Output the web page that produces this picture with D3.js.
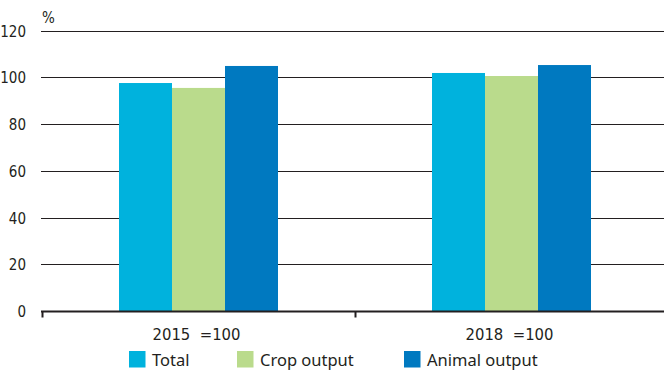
<!DOCTYPE html>
<html>
<head>
<meta charset="utf-8">
<script src="https://cdn.jsdelivr.net/npm/d3@7"></script>
<style>
  html, body { margin: 0; padding: 0; background: #fff; }
  svg { display: block; }
</style>
</head>
<body>
<svg id="chart" width="664" height="371"></svg>
<script>
const categories = ["2015 \u00A0=100", "2018 \u00A0=100"];
const seriesNames = ["Total", "Crop output", "Animal output"];
const total = [97.6, 101.9];
const crop = [95.5, 100.6];
const animal = [104.9, 105.3];
const yTicks = [0, 20, 40, 60, 80, 100, 120];
const colors = ["#00b2dd", "#badb8c", "#0079c0"];

const series = [total, crop, animal];
const svg = d3.select("#chart");
const ink = "#231f20";
const narrow = "'Liberation Sans Narrow', 'DejaVu Sans Condensed', sans-serif";

const x0 = d3.scaleBand().domain(categories).range([42, 668]).paddingInner(0).paddingOuter(0);
const x1 = d3.scaleBand().domain(seriesNames).range([0, 159]).padding(0);
const y = d3.scaleLinear().domain([0, 120]).range([311, 30.7]);

// gridlines
svg.append("g").selectAll("line").data(yTicks.filter(d => d > 0)).join("line")
  .attr("x1", 41).attr("x2", 664)
  .attr("y1", d => Math.round(y(d)) + 0.5).attr("y2", d => Math.round(y(d)) + 0.5)
  .attr("stroke", ink).attr("stroke-width", 1);

// y tick labels
svg.append("g").selectAll("text").data(yTicks).join("text")
  .attr("x", 26).attr("y", d => y(d) + 6)
  .attr("text-anchor", "end")
  .attr("font-family", narrow).attr("font-size", 15).attr("fill", ink)
  .text(d => d);

svg.append("text").attr("x", 42).attr("y", 22.5)
  .attr("font-family", narrow).attr("font-size", 15).attr("fill", ink).text("%");

// bars
const groups = svg.append("g").selectAll("g").data(categories).join("g")
  .attr("transform", c => `translate(${x0(c) + (x0.bandwidth() - 159) / 2},0)`);
groups.selectAll("rect").data((c, i) => seriesNames.map((s, j) => ({ s, v: series[j][i], j })))
  .join("rect")
  .attr("x", d => x1(d.s)).attr("width", x1.bandwidth())
  .attr("y", d => y(d.v)).attr("height", d => y(0) - y(d.v))
  .attr("fill", d => colors[d.j]);

// x axis
const xAxis = svg.append("g").attr("transform", "translate(0,311)")
  .call(d3.axisBottom(x0).tickSize(0).tickPadding(0));
xAxis.select(".domain").remove();
xAxis.selectAll("text").remove();
xAxis.append("line").attr("x1", 41).attr("x2", 664).attr("y1", 0.5).attr("y2", 0.5)
  .attr("stroke", ink).attr("stroke-width", 2);
const boundaries = [x0.range()[0], x0(categories[1])];
xAxis.selectAll("line.tk").data(boundaries).join("line").attr("class", "tk")
  .attr("x1", d => d + 0.5).attr("x2", d => d + 0.5).attr("y1", 0).attr("y2", 6.5)
  .attr("stroke", ink).attr("stroke-width", 2);
xAxis.selectAll("text.cat").data(categories).join("text").attr("class", "cat")
  .attr("x", d => x0(d) + x0.bandwidth() / 2 - 2).attr("y", 28.5)
  .attr("text-anchor", "middle")
  .attr("font-family", narrow).attr("font-size", 16.5).attr("fill", ink)
  .text(d => d);

// legend
const legendX = [129, 237, 404];
const lg = svg.append("g").selectAll("g").data(seriesNames).join("g")
  .attr("transform", (d, i) => `translate(${legendX[i]},351)`);
lg.append("rect").attr("width", 16.5).attr("height", 16.5).attr("fill", (d, i) => colors[i]);
lg.append("text").attr("x", 23).attr("y", 15.3)
  .attr("font-family", "'Noto Sans', 'Open Sans', sans-serif").attr("font-size", 16.5).attr("fill", ink)
  .text(d => d);
</script>
</body>
</html>
